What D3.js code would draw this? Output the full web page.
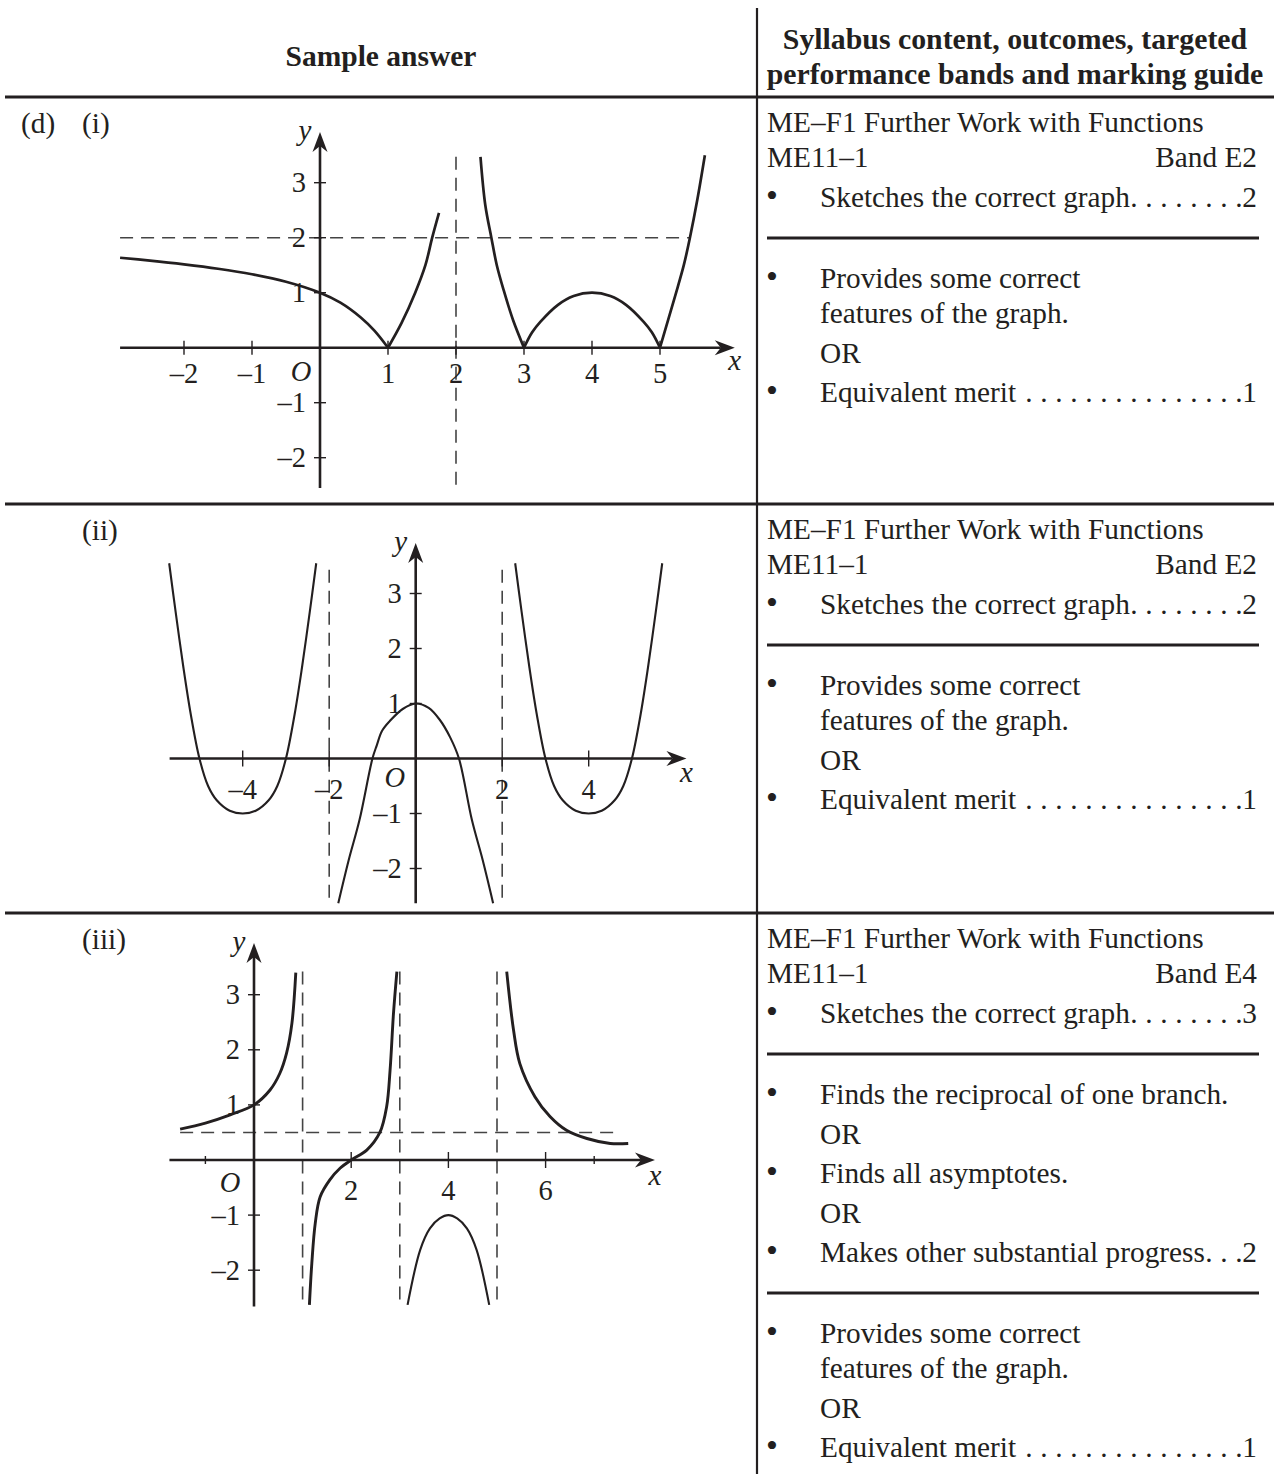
<!DOCTYPE html>
<html>
<head>
<meta charset="utf-8">
<script src="https://cdn.jsdelivr.net/npm/d3@7"></script>
<style>
  html,body{margin:0;padding:0;background:#fff;}
  svg{display:block;}
</style>
</head>
<body>
<svg id="c" width="1274" height="1474"></svg>
<script>
// ---------------- DATA ----------------
const headerLeft = "Sample answer";
const headerRight = ["Syllabus content, outcomes, targeted", "performance bands and marking guide"];
const rowPart = ["(d)", "", ""];
const rowSub = ["(i)", "(ii)", "(iii)"];

const outcomeTitle = "ME–F1 Further Work with Functions";
const outcomeCode = "ME11–1";
const bands = ["Band E2", "Band E2", "Band E4"];

// each row: list of groups; each line: [text, bullet?, mark, continuation?]
const criteriaRow1 = [
  [["Sketches the correct graph", true, "2"]],
  [["Provides some correct", true, ""], ["features of the graph.", false, "", true], ["OR", false, ""], ["Equivalent merit ", true, "1"]]
];
const criteriaRow2 = [
  [["Sketches the correct graph", true, "2"]],
  [["Provides some correct", true, ""], ["features of the graph.", false, "", true], ["OR", false, ""], ["Equivalent merit ", true, "1"]]
];
const criteriaRow3 = [
  [["Sketches the correct graph", true, "3"]],
  [["Finds the reciprocal of one branch.", true, ""], ["OR", false, ""], ["Finds all asymptotes.", true, ""], ["OR", false, ""], ["Makes other substantial progress", true, "2"]],
  [["Provides some correct", true, ""], ["features of the graph.", false, "", true], ["OR", false, ""], ["Equivalent merit ", true, "1"]]
];

// ---- graph (i): y = |f(x)| ----
const g1Branches = [
  [[-2.94,1.635],[-2.5,1.583],[-2,1.515],[-1.5,1.435],[-1,1.335],[-0.5,1.2],[0,1.0],[0.3,0.82],[0.6,0.55],[0.8,0.31],[1,0]],
  [[1,0],[1.2,0.45],[1.4,1.0],[1.55,1.5],[1.65,2.0],[1.75,2.45]],
  [[2.36,3.47],[2.43,2.6],[2.52,2.0],[2.6,1.5],[2.7,1.05],[2.84,0.5],[3,0]],
  [[3,0],[3.12,0.28],[3.24,0.47],[3.5,0.78],[3.73,0.94],[4,1],[4.27,0.94],[4.5,0.78],[4.76,0.47],[4.88,0.28],[5,0]],
  [[5,0],[5.22,0.93],[5.35,1.5],[5.44,2.0],[5.55,2.7],[5.66,3.5]]
];
const g1HDash = [{y:2, from:-2.94, to:5.44}];
const g1VDash = [{x:2, from:-2.58, to:3.47}];
const g1XTicks = [-2,-1,1,2,3,4,5];
const g1XTickLabels = ["–2","–1","1","2","3","4","5"];
const g1YTicks = [3,2,1,-1,-2];
const g1YTickLabels = ["3","2","1","–1","–2"];

// ---- graph (ii): y = f(|x|) ----
const g2Branches = [
  [[-5.7,3.55],[-5.55,2.66],[-5.37,1.65],[-5.2,0.8],[-5,0],[-4.8,-0.5],[-4.6,-0.76],[-4.3,-0.95],[-4,-1],[-3.7,-0.95],[-3.4,-0.76],[-3.2,-0.5],[-3,0],[-2.8,0.8],[-2.63,1.65],[-2.45,2.66],[-2.3,3.55]],
  [[-1.79,-2.63],[-1.55,-1.85],[-1.3,-1.12],[-1,0],[-0.9,0.24],[-0.78,0.5],[-0.6,0.68],[-0.3,0.9],[0,1],[0.3,0.92],[0.56,0.7],[0.8,0.38],[1,0],[1.3,-1.12],[1.55,-1.85],[1.79,-2.63]],
  [[2.3,3.55],[2.45,2.66],[2.63,1.65],[2.8,0.8],[3,0],[3.2,-0.5],[3.4,-0.76],[3.7,-0.95],[4,-1],[4.3,-0.95],[4.6,-0.76],[4.8,-0.5],[5,0],[5.2,0.8],[5.37,1.65],[5.55,2.66],[5.7,3.55]]
];
const g2HDash = [];
const g2VDash = [{x:-2, from:-2.57, to:3.43},{x:2, from:-2.57, to:3.43}];
const g2XTicks = [-4,-2,2,4];
const g2XTickLabels = ["–4","–2","2","4"];
const g2YTicks = [3,2,1,-1,-2];
const g2YTickLabels = ["3","2","1","–1","–2"];

// ---- graph (iii): y = 1/f(x) ----
const g3Branches = [
  [[-1.52,0.56],[-1,0.67],[-0.49,0.82],[0,1],[0.33,1.27],[0.53,1.57],[0.67,1.94],[0.78,2.48],[0.86,3.4]],
  [[1.14,-2.63],[1.19,-1.87],[1.26,-1.15],[1.36,-0.67],[1.56,-0.36],[1.77,-0.15],[2,0],[2.32,0.18],[2.59,0.5],[2.73,0.97],[2.8,1.63],[2.87,2.66],[2.94,3.42]],
  [[3.16,-2.63],[3.42,-1.63],[3.62,-1.24],[3.82,-1.06],[4,-1],[4.18,-1.06],[4.38,-1.24],[4.58,-1.63],[4.84,-2.63]],
  [[5.2,3.42],[5.34,2.36],[5.47,1.75],[5.78,1.15],[6.09,0.79],[6.43,0.54],[6.85,0.39],[7.33,0.30],[7.7,0.30]]
];
const g3HDash = [{y:0.5, from:-1.52, to:7.5}];
const g3VDash = [{x:1, from:-2.66, to:3.42},{x:3, from:-2.66, to:3.42},{x:5, from:-2.66, to:3.42}];
const g3XTicks = [2,4,6];
const g3XMinorTicks = [-1,7];
const g3XTickLabels = ["2","4","6"];
const g3YTicks = [3,2,1,-1,-2];
const g3YTickLabels = ["3","2","1","–1","–2"];

// ---------------- DRAWING ----------------
const svg = d3.select('#c');
const INK = '#231f20';
const SERIF = '"Liberation Serif","Times New Roman",Times,serif';
const FS = 29.3;

svg.append('rect').attr('width',1274).attr('height',1474).attr('fill','#fff');

const rowTops = [97, 504, 913];
const divX = 757;

// table rules
svg.append('line').attr('x1',divX).attr('x2',divX).attr('y1',8).attr('y2',1474)
  .attr('stroke',INK).attr('stroke-width',2.2);
rowTops.forEach(t => svg.append('line').attr('x1',5).attr('x2',1274).attr('y1',t).attr('y2',t)
  .attr('stroke',INK).attr('stroke-width',3));

// header
svg.append('text').attr('x',381).attr('y',66).attr('text-anchor','middle')
  .attr('font-family',SERIF).attr('font-weight','bold').attr('font-size',29.5).attr('fill',INK).text(headerLeft);
headerRight.forEach((s,i) => svg.append('text').attr('x',1015).attr('y',49 + i*35).attr('text-anchor','middle')
  .attr('font-family',SERIF).attr('font-weight','bold').attr('font-size',29.8).attr('fill',INK).text(s));

// row labels
rowTops.forEach((t,i) => {
  if (rowPart[i]) svg.append('text').attr('x',21).attr('y',t+36).attr('font-family',SERIF).attr('font-size',FS).attr('fill',INK).text(rowPart[i]);
  svg.append('text').attr('x',82).attr('y',t+36).attr('font-family',SERIF).attr('font-size',FS).attr('fill',INK).text(rowSub[i]);
});

// right column
const colL = 767, colR = 1257, bulletX = 772, textX = 820;
function txt(x,y,s,anchor,size){
  return svg.append('text').attr('x',x).attr('y',y).attr('text-anchor',anchor||'start')
    .attr('font-family',SERIF).attr('font-size',size||FS).attr('fill',INK).style('white-space','pre').text(s);
}
function leaderLine(y, label, mark){
  const t = txt(textX, y, label);
  const w = t.node().getComputedTextLength();
  const m = txt(colR, y, mark, 'end');
  const mw = m.node().getComputedTextLength();
  const trailing = /\s$/.test(label);
  const minX = textX + w + (trailing ? 4 : 3);
  let p = colR - mw - 3.5;
  while (p > minX) {
    txt(p, y, '.', 'middle');
    p -= 15;
  }
}
const allCriteria = [criteriaRow1, criteriaRow2, criteriaRow3];
rowTops.forEach((t,i) => {
  txt(colL, t+35, outcomeTitle);
  txt(colL, t+70, outcomeCode);
  txt(colR, t+70, bands[i], 'end');
  let y = t + 110;
  allCriteria[i].forEach((grp, gi) => {
    if (gi > 0) {
      const sy = y + 31;
      svg.append('line').attr('x1',colL).attr('x2',1259).attr('y1',sy).attr('y2',sy)
        .attr('stroke',INK).attr('stroke-width',3);
      y = sy + 50;
    }
    grp.forEach((ln, li) => {
      if (li > 0) y += ln[3] ? 35 : 39.5;
      if (ln[1]) txt(bulletX, y, '•', 'middle', 34);
      if (ln[2]) leaderLine(y, ln[0], ln[2]);
      else txt(textX, y, ln[0]);
    });
  });
});

// ---------------- CHARTS ----------------
function arrowPath(tx, ty, angle){
  return svg.append('path').attr('d','M0,0 L-20,-7.5 L-14,0 L-20,7.5 Z')
    .attr('transform',`translate(${tx},${ty}) rotate(${angle})`).attr('fill',INK);
}
function drawChart(c){
  const x = d3.scaleLinear().domain([0,1]).range([c.ox, c.ox + c.ux]);
  const y = d3.scaleLinear().domain([0,1]).range([c.oy, c.oy - c.uy]);
  const g = svg.append('g');
  const dash = '13,8';
  c.hDash.forEach(d => g.append('line').attr('x1',x(d.from)).attr('x2',x(d.to)).attr('y1',y(d.y)).attr('y2',y(d.y))
    .attr('stroke','#444').attr('stroke-width',1.6).attr('stroke-dasharray',dash));
  c.vDash.forEach(d => g.append('line').attr('x1',x(d.x)).attr('x2',x(d.x)).attr('y1',y(d.to)).attr('y2',y(d.from))
    .attr('stroke','#444').attr('stroke-width',1.6).attr('stroke-dasharray',dash));
  // axes
  const xTip = x(c.xAxis[1]), yTip = y(c.yAxis[1]);
  g.append('line').attr('x1',x(c.xAxis[0])).attr('x2',xTip-14).attr('y1',y(0)).attr('y2',y(0))
    .attr('stroke',INK).attr('stroke-width',2.6);
  g.append('line').attr('x1',x(0)).attr('x2',x(0)).attr('y1',y(c.yAxis[0])).attr('y2',yTip+14)
    .attr('stroke',INK).attr('stroke-width',2.6);
  arrowPath(xTip, y(0), 0);
  arrowPath(x(0), yTip, -90);
  // ticks
  c.xTicks.forEach(v => g.append('line').attr('x1',x(v)).attr('x2',x(v)).attr('y1',y(0)-c.tickLen).attr('y2',y(0)+c.tickLen)
    .attr('stroke',INK).attr('stroke-width',1.4));
  (c.xMinor||[]).forEach(v => g.append('line').attr('x1',x(v)).attr('x2',x(v)).attr('y1',y(0)-4).attr('y2',y(0)+4)
    .attr('stroke',INK).attr('stroke-width',1.4));
  c.yTicks.forEach(v => g.append('line').attr('x1',x(0)-6).attr('x2',x(0)+6).attr('y1',y(v)).attr('y2',y(v))
    .attr('stroke',INK).attr('stroke-width',1.4));
  // tick labels
  c.xTicks.forEach((v,i) => g.append('text').attr('x',x(v)).attr('y',y(0)+c.xLabDy).attr('text-anchor','middle')
    .attr('font-family',SERIF).attr('font-size',28.5).attr('fill',INK).text(c.xLabels[i]));
  c.yTicks.forEach((v,i) => g.append('text').attr('x',x(0)-14).attr('y',y(v)+9.5).attr('text-anchor','end')
    .attr('font-family',SERIF).attr('font-size',28.5).attr('fill',INK).text(c.yLabels[i]));
  g.append('text').attr('x',x(0)+c.oDx).attr('y',y(0)+c.oDy).attr('text-anchor','middle')
    .attr('font-family',SERIF).attr('font-style','italic').attr('font-size',28.5).attr('fill',INK).text('O');
  g.append('text').attr('x',xTip).attr('y',y(0)+c.xNameDy).attr('text-anchor','middle')
    .attr('font-family',SERIF).attr('font-style','italic').attr('font-size',29).attr('fill',INK).text('x');
  g.append('text').attr('x',x(0)-15).attr('y',yTip+8).attr('text-anchor','middle')
    .attr('font-family',SERIF).attr('font-style','italic').attr('font-size',29).attr('fill',INK).text('y');
  // curves
  const line = d3.line().x(d=>x(d[0])).y(d=>y(d[1])).curve(d3.curveCatmullRom.alpha(0.5));
  c.branches.forEach((b,i) => g.append('path').attr('d',line(b)).attr('fill','none')
    .attr('stroke',INK).attr('stroke-width',(c.widths && c.widths[i]) || c.curveW)
    .attr('stroke-linejoin','round').attr('stroke-linecap','butt'));
}

drawChart({ox:320, oy:347.7, ux:68, uy:55, xAxis:[-2.94,6.1], yAxis:[-2.55,3.92],
  hDash:g1HDash, vDash:g1VDash, xTicks:g1XTicks, xLabels:g1XTickLabels, yTicks:g1YTicks, yLabels:g1YTickLabels,
  tickLen:7, xLabDy:35, oDx:-19, oDy:33, xNameDy:22, branches:g1Branches, curveW:2.7});

drawChart({ox:415.7, oy:758.5, ux:43.25, uy:55, xAxis:[-5.69,6.26], yAxis:[-2.63,3.92],
  hDash:g2HDash, vDash:g2VDash, xTicks:g2XTicks, xLabels:g2XTickLabels, yTicks:g2YTicks, yLabels:g2YTickLabels,
  tickLen:8, xLabDy:40, oDx:-21, oDy:28, xNameDy:23, branches:g2Branches, curveW:2.1});

drawChart({ox:254, oy:1160, ux:48.6, uy:55.1, xAxis:[-1.74,8.25], yAxis:[-2.66,3.94],
  hDash:g3HDash, vDash:g3VDash, xTicks:g3XTicks, xMinor:g3XMinorTicks, xLabels:g3XTickLabels, yTicks:g3YTicks, yLabels:g3YTickLabels,
  tickLen:8, xLabDy:40, oDx:-24, oDy:32, xNameDy:25, branches:g3Branches, curveW:2.9, widths:[2.9,2.9,2.1,2.9]});
</script>
</body>
</html>
